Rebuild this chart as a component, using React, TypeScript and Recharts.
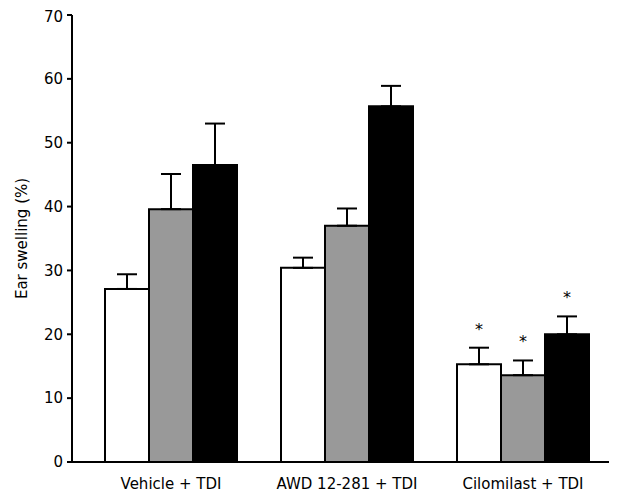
import { Bar, BarChart, ErrorBar, LabelList, XAxis, YAxis } from "recharts";

const groups = ["Vehicle + TDI", "AWD 12-281 + TDI", "Cilomilast + TDI"];
const whiteVals = [27.1, 30.4, 15.3];
const whiteErr = [2.3, 1.6, 2.6];
const grayVals = [39.6, 37.0, 13.6];
const grayErr = [5.5, 2.7, 2.3];
const blackVals = [46.5, 55.7, 20.0];
const blackErr = [6.5, 3.2, 2.8];
const significant = [false, false, true];
const yTicks = [0, 10, 20, 30, 40, 50, 60, 70];

const data = groups.map((g, i) => ({
  group: g,
  white: whiteVals[i],
  whiteE: [0, whiteErr[i]],
  gray: grayVals[i],
  grayE: [0, grayErr[i]],
  black: blackVals[i],
  blackE: [0, blackErr[i]],
}));

const font = "'DejaVu Sans', sans-serif";

// asterisk above the error bar of significant groups
function starLabel(errs: number[]) {
  return (props: any) => {
    const { x, y, width, height, value, index } = props;
    if (!significant[index]) return null;
    const perUnit = height / value;
    const top = y - errs[index] * perUnit;
    return (
      <text x={x + width / 2} y={top - 13} textAnchor="middle" fontSize={16} fontFamily={font} fill="#000">
        *
      </text>
    );
  };
}

export default function App() {
  return (
    <BarChart
      width={609}
      height={490}
      data={data}
      margin={{ top: 7, right: 0, bottom: 0, left: 0 }}
      barGap={0}
      barCategoryGap={22}
      style={{ fontFamily: font, fontSize: 15 }}
    >
      <XAxis
        dataKey="group"
        height={36}
        padding={{ left: 11, right: 6 }}
        tickLine={false}
        axisLine={{ stroke: "#000", strokeWidth: 2 }}
        tick={{ fill: "#000", fontSize: 15, fontFamily: font }}
        tickMargin={10}
        interval={0}
      />
      <YAxis
        width={64}
        domain={[0, 70]}
        ticks={yTicks}
        axisLine={{ stroke: "#000", strokeWidth: 2 }}
        tickLine={{ stroke: "#000", strokeWidth: 2 }}
        tickSize={5}
        tickMargin={4}
        tick={{ fill: "#000", fontSize: 15, fontFamily: font }}
        label={{
          value: "Ear swelling (%)",
          angle: -90,
          position: "insideLeft",
          offset: 14,
          style: { textAnchor: "middle", fill: "#000", fontSize: 15, fontFamily: font },
        }}
      />
      <Bar dataKey="white" fill="#fff" stroke="#000" strokeWidth={2} barSize={44} isAnimationActive={false}>
        <ErrorBar dataKey="whiteE" direction="y" width={10} stroke="#000" strokeWidth={2} />
        <LabelList dataKey="white" content={starLabel(whiteErr)} />
      </Bar>
      <Bar dataKey="gray" fill="#999" stroke="#000" strokeWidth={2} barSize={44} isAnimationActive={false}>
        <ErrorBar dataKey="grayE" direction="y" width={10} stroke="#000" strokeWidth={2} />
        <LabelList dataKey="gray" content={starLabel(grayErr)} />
      </Bar>
      <Bar dataKey="black" fill="#000" stroke="#000" strokeWidth={2} barSize={44} isAnimationActive={false}>
        <ErrorBar dataKey="blackE" direction="y" width={10} stroke="#000" strokeWidth={2} />
        <LabelList dataKey="black" content={starLabel(blackErr)} />
      </Bar>
    </BarChart>
  );
}
